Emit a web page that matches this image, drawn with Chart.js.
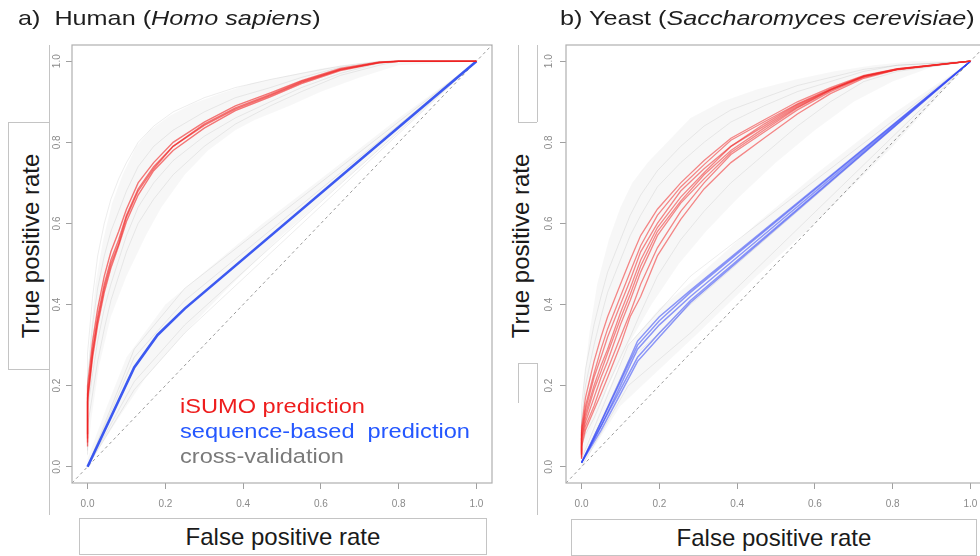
<!DOCTYPE html>
<html><head><meta charset="utf-8">
<script src="https://cdn.jsdelivr.net/npm/chart.js@4.4.1/dist/chart.umd.min.js"></script>
<style>
html,body{margin:0;padding:0;width:980px;height:556px;overflow:hidden;background:#fff;font-family:"Liberation Sans",Arial,Helvetica,sans-serif;}
.panel{position:absolute;top:0;width:500px;height:556px;}
.title{position:absolute;top:6px;font-size:21px;line-height:24px;color:#1e1e1e;white-space:nowrap;transform-origin:0 0;transform:scaleX(1.2);}
.box{position:absolute;border:1px solid #c4c4c4;box-sizing:border-box;background:#fff;}
.xt{font-size:24px;line-height:35px;text-align:center;color:#1a1a1a;white-space:nowrap;}
.yt{position:absolute;width:220px;height:28px;line-height:28px;font-size:24px;text-align:center;color:#1a1a1a;white-space:nowrap;transform:rotate(-90deg);}
.vl{position:absolute;width:0;border-left:1px solid #c4c4c4;}
.hl{position:absolute;height:0;border-top:1px solid #c4c4c4;}
.leg{position:absolute;left:180px;top:394px;font-size:20px;line-height:25px;white-space:nowrap;transform-origin:0 0;transform:scaleX(1.18);}
</style></head>
<body>
<div class="vl" style="left:49px;top:45px;height:470px"></div>
<div class="box" style="left:8px;top:122px;width:42px;height:248px"></div>
<div class="yt" style="left:-79px;top:232px">True positive rate</div>

<div class="vl" style="left:537px;top:45px;height:77px"></div>
<div class="vl" style="left:537px;top:363px;height:152px"></div>
<div class="vl" style="left:518px;top:45px;height:77px"></div>
<div class="vl" style="left:518px;top:363px;height:40px"></div>
<div class="hl" style="left:518px;top:122px;width:19px"></div>
<div class="hl" style="left:518px;top:363px;width:19px"></div>
<div class="yt" style="left:411px;top:232px">True positive rate</div>

<div class="box xt" style="left:79px;top:518px;width:408px;height:37px">False positive rate</div>
<div class="box xt" style="left:571px;top:519px;width:406px;height:37px">False positive rate</div>

<div class="panel" style="left:0px"><canvas id="cA"></canvas></div>
<div class="panel" style="left:494px"><canvas id="cB"></canvas></div>

<div class="title" style="left:18px">a)&nbsp; Human (<i>Homo sapiens</i>)</div>
<div class="title" style="left:560px">b) Yeast (<i>Saccharomyces cerevisiae</i>)</div>

<div class="leg">
<div style="color:#ee1d1d">iSUMO prediction</div>
<div style="color:#2457ff">sequence-based&nbsp; prediction</div>
<div style="color:#7a7a7a">cross-validation</div>
</div>

<script>
// ---------- shared ----------
const tickValues = [0, 0.2, 0.4, 0.6, 0.8, 1.0];
const axisMin = -0.04, axisMax = 1.04;
const diagonal = [-0.04, 1.04];

// ---------- a) Human ----------
const hRedX = [0, 0, 0.013, 0.026, 0.043, 0.06, 0.08, 0.1, 0.13, 0.17, 0.22, 0.3, 0.38, 0.47, 0.55, 0.65, 0.75, 0.8, 1.0];
const hRed1 = [0.06, 0.18, 0.29, 0.37, 0.45, 0.51, 0.56, 0.62, 0.685, 0.74, 0.79, 0.845, 0.885, 0.918, 0.95, 0.98, 0.997, 1, 1];
const hRed2 = [0.08, 0.20, 0.31, 0.39, 0.47, 0.53, 0.58, 0.635, 0.70, 0.75, 0.80, 0.85, 0.89, 0.922, 0.952, 0.982, 0.998, 1, 1];
const hRed3 = [0.05, 0.16, 0.27, 0.35, 0.43, 0.49, 0.545, 0.605, 0.67, 0.73, 0.78, 0.835, 0.878, 0.912, 0.945, 0.977, 0.996, 1, 1];
const hRed4 = [0.07, 0.17, 0.28, 0.36, 0.44, 0.50, 0.55, 0.615, 0.68, 0.735, 0.79, 0.842, 0.882, 0.915, 0.948, 0.979, 0.997, 1, 1];
const hCvRed1 = [0.10, 0.28, 0.42, 0.52, 0.60, 0.66, 0.71, 0.75, 0.80, 0.84, 0.875, 0.91, 0.935, 0.955, 0.97, 0.988, 1, 1, 1];
const hCvRed2 = [0.03, 0.10, 0.18, 0.26, 0.34, 0.41, 0.47, 0.53, 0.60, 0.66, 0.72, 0.79, 0.845, 0.89, 0.925, 0.965, 0.99, 1, 1];
const hCvRed3 = [0.08, 0.22, 0.35, 0.44, 0.52, 0.58, 0.63, 0.68, 0.74, 0.79, 0.83, 0.875, 0.91, 0.935, 0.96, 0.985, 0.998, 1, 1];
const hCvRed4 = [0.04, 0.14, 0.23, 0.31, 0.39, 0.45, 0.51, 0.57, 0.64, 0.70, 0.755, 0.815, 0.86, 0.90, 0.935, 0.97, 0.995, 1, 1];
const hBlueX = [0, 0.12, 0.18, 0.25, 1.0];
const hBlue = [0, 0.245, 0.325, 0.39, 1.0];
const hCvBlueX = [0, 0.12, 0.25, 1.0];
const hCvBlue1 = [0, 0.29, 0.44, 1];
const hCvBlue2 = [0, 0.21, 0.35, 1];
const hCvBlue3 = [0, 0.27, 0.41, 1];
const hCvBlue4 = [0, 0.19, 0.33, 1];
const hBandRedUpX = [0, 0.005, 0.02, 0.04, 0.063, 0.09, 0.125, 0.16, 0.21, 0.27, 0.34, 0.42, 0.5, 0.6, 0.7, 0.78, 1.0];
const hBandRedUpY = [0.12, 0.30, 0.45, 0.56, 0.65, 0.72, 0.79, 0.83, 0.865, 0.895, 0.92, 0.945, 0.962, 0.982, 0.995, 1, 1];
const hBandRedLoX = [0, 0.01, 0.03, 0.06, 0.1, 0.15, 0.19, 0.25, 0.31, 0.38, 0.43, 0.52, 0.6, 0.7, 0.8, 1.0];
const hBandRedLoY = [0.02, 0.12, 0.25, 0.37, 0.47, 0.57, 0.64, 0.72, 0.78, 0.83, 0.855, 0.89, 0.925, 0.96, 0.99, 1];
const hBandBlueUpX = [0, 0.05, 0.1, 0.2, 0.3, 0.45, 0.6, 0.8, 1.0];
const hBandBlueUpY = [0.02, 0.15, 0.27, 0.40, 0.48, 0.60, 0.71, 0.86, 1];
const hBandBlueLoX = [0, 0.08, 0.15, 0.25, 0.35, 0.5, 0.7, 0.85, 1.0];
const hBandBlueLoY = [0, 0.12, 0.22, 0.33, 0.43, 0.57, 0.74, 0.87, 1];

// ---------- b) Yeast ----------
const yRedX = [0, 0, 0.01, 0.032, 0.05, 0.067, 0.1, 0.125, 0.152, 0.195, 0.255, 0.315, 0.384, 0.469, 0.555, 0.64, 0.726, 0.812, 1.0];
const yRed1 = [0.04, 0.10, 0.17, 0.26, 0.32, 0.37, 0.45, 0.51, 0.57, 0.635, 0.70, 0.755, 0.81, 0.855, 0.90, 0.935, 0.965, 0.982, 1];
const yRed2 = [0.03, 0.09, 0.15, 0.23, 0.29, 0.34, 0.42, 0.48, 0.545, 0.62, 0.69, 0.745, 0.805, 0.85, 0.895, 0.932, 0.964, 0.981, 1];
const yRed3 = [0.03, 0.08, 0.13, 0.20, 0.25, 0.29, 0.38, 0.44, 0.51, 0.59, 0.665, 0.725, 0.79, 0.84, 0.89, 0.93, 0.963, 0.98, 1];
const yRed4 = [0.03, 0.07, 0.11, 0.17, 0.22, 0.26, 0.35, 0.41, 0.48, 0.57, 0.65, 0.71, 0.775, 0.83, 0.885, 0.928, 0.962, 0.98, 1];
const yRed5 = [0.02, 0.06, 0.10, 0.15, 0.20, 0.24, 0.32, 0.38, 0.45, 0.54, 0.63, 0.70, 0.77, 0.825, 0.88, 0.925, 0.96, 0.98, 1];
const yRed6 = [0.02, 0.05, 0.09, 0.14, 0.18, 0.22, 0.30, 0.37, 0.42, 0.52, 0.61, 0.685, 0.75, 0.81, 0.87, 0.92, 0.958, 0.979, 1];
const yRed7 = [0.035, 0.085, 0.14, 0.22, 0.27, 0.32, 0.40, 0.46, 0.53, 0.60, 0.68, 0.735, 0.79, 0.845, 0.893, 0.93, 0.963, 0.981, 1];
const yRed8 = [0.025, 0.07, 0.12, 0.19, 0.235, 0.28, 0.365, 0.425, 0.495, 0.58, 0.655, 0.72, 0.78, 0.835, 0.887, 0.929, 0.962, 0.98, 1];
const yBlueX = [0, 0.05, 0.1, 0.144, 0.2, 0.28, 1.0];
const yBlue1 = [0.01, 0.11, 0.21, 0.30, 0.36, 0.43, 1];
const yBlue2 = [0.01, 0.10, 0.20, 0.29, 0.35, 0.42, 1];
const yBlue3 = [0.01, 0.10, 0.19, 0.27, 0.33, 0.41, 1];
const yBlue4 = [0.01, 0.09, 0.18, 0.26, 0.32, 0.405, 1];
const yBlue5 = [0.01, 0.11, 0.215, 0.31, 0.37, 0.435, 1];
const yCvRed1 = [0.05, 0.15, 0.24, 0.35, 0.42, 0.48, 0.56, 0.62, 0.67, 0.73, 0.79, 0.84, 0.88, 0.91, 0.94, 0.96, 0.98, 0.99, 1];
const yCvRed2 = [0.02, 0.05, 0.08, 0.12, 0.16, 0.20, 0.27, 0.32, 0.38, 0.47, 0.56, 0.63, 0.70, 0.77, 0.84, 0.90, 0.95, 0.975, 1];
const yCvRed3 = [0.04, 0.12, 0.20, 0.30, 0.37, 0.43, 0.51, 0.57, 0.62, 0.69, 0.75, 0.80, 0.85, 0.89, 0.925, 0.95, 0.975, 0.99, 1];
const yCvBlueX = [0, 0.12, 0.28, 1.0];
const yCvBlue1 = [0.02, 0.30, 0.47, 1];
const yCvBlue2 = [0.0, 0.20, 0.33, 1];
const yCvBlue3 = [0.01, 0.26, 0.40, 1];
const yBandRedUpX = [0, 0.005, 0.02, 0.04, 0.07, 0.1, 0.13, 0.17, 0.22, 0.28, 0.36, 0.45, 0.55, 0.65, 0.75, 0.85, 1.0];
const yBandRedUpY = [0.05, 0.20, 0.33, 0.45, 0.56, 0.64, 0.70, 0.75, 0.80, 0.86, 0.90, 0.93, 0.955, 0.975, 0.99, 1, 1];
const yBandRedLoX = [0, 0.03, 0.07, 0.12, 0.18, 0.25, 0.32, 0.4, 0.5, 0.6, 0.7, 0.8, 0.9, 1.0];
const yBandRedLoY = [0.02, 0.10, 0.20, 0.30, 0.40, 0.50, 0.58, 0.66, 0.75, 0.83, 0.90, 0.95, 0.985, 1];
const yBandBlueUpX = [0, 0.05, 0.12, 0.2, 0.3, 0.45, 0.6, 0.8, 1.0];
const yBandBlueUpY = [0.02, 0.15, 0.30, 0.39, 0.47, 0.60, 0.72, 0.87, 1];
const yBandBlueLoX = [0, 0.1, 0.2, 0.3, 0.45, 0.6, 0.8, 1.0];
const yBandBlueLoY = [0, 0.15, 0.24, 0.33, 0.47, 0.60, 0.79, 1];

// ---------- builders ----------
function pts(xs, ys) { return xs.map((x, i) => ({x: x, y: ys[i]})); }
function band(ux, uy, lx, ly) { return pts(ux, uy).concat(pts(lx, ly).reverse()); }

function lineDs(data, color, width, order) {
  return {data: data, borderColor: color, borderWidth: width, pointRadius: 0, tension: 0, fill: false, order: order};
}
function bandDs(data, color, order) {
  return {data: data, borderColor: 'rgba(0,0,0,0)', borderWidth: 1, backgroundColor: color, pointRadius: 0, tension: 0, fill: 'shape', order: order};
}
function diagDs() {
  return {data: pts(diagonal, diagonal), borderColor: '#9a9a9a', borderWidth: 1, borderDash: [3, 3], pointRadius: 0, fill: false, order: 50};
}

const boxPlugin = {
  id: 'plotBox',
  afterDatasetsDraw(chart) {
    const a = chart.chartArea, c = chart.ctx;
    c.save(); c.strokeStyle = '#b0b0b0'; c.lineWidth = 1.2;
    c.strokeRect(a.left, a.top, a.right - a.left, a.bottom - a.top);
    c.restore();
  }
};

function makeChart(id, datasets, yPad) {
  return new Chart(document.getElementById(id), {
    type: 'line',
    data: {datasets: datasets},
    plugins: [boxPlugin],
    options: {
      responsive: true, maintainAspectRatio: false, animation: false,
      layout: {padding: {left: 0, top: 45, right: 8, bottom: 0}},
      plugins: {legend: {display: false}, tooltip: {enabled: false}},
      scales: {
        x: {
          type: 'linear', min: axisMin, max: axisMax,
          afterBuildTicks: s => { s.ticks = tickValues.map(v => ({value: v})); },
          afterFit: s => { s.height = 73; },
          ticks: {callback: v => Number(v).toFixed(1), color: '#8a8a8a', font: {size: 10, family: 'Liberation Sans'}, padding: 9, maxRotation: 0, autoSkip: false},
          grid: {drawOnChartArea: false, drawTicks: true, tickLength: 6, color: '#a0a0a0'},
          border: {display: false}
        },
        y: {
          type: 'linear', min: axisMin, max: axisMax,
          afterBuildTicks: s => { s.ticks = tickValues.map(v => ({value: v})); },
          afterFit: s => { s.width = 72; },
          ticks: {callback: v => Number(v).toFixed(1), color: '#8a8a8a', font: {size: 10, family: 'Liberation Sans'}, padding: yPad, minRotation: 90, maxRotation: 90, crossAlign: 'center', autoSkip: false},
          grid: {drawOnChartArea: false, drawTicks: true, tickLength: 6, color: '#a0a0a0'},
          border: {display: false}
        }
      }
    }
  });
}

const gray = 'rgba(110,110,110,0.12)';
const bandCol = 'rgba(0,0,0,0.033)';

const dsA = [
  lineDs(pts(hRedX, hRed1), 'rgba(240,30,30,0.6)', 1.4, 1),
  lineDs(pts(hRedX, hRed2), 'rgba(240,30,30,0.6)', 1.4, 1),
  lineDs(pts(hRedX, hRed3), 'rgba(240,30,30,0.6)', 1.4, 1),
  lineDs(pts(hRedX, hRed4), 'rgba(240,30,30,0.6)', 1.4, 1),
  lineDs(pts(hBlueX, hBlue), 'rgba(50,80,240,0.95)', 2.6, 2),
  lineDs(pts(hRedX, hCvRed1), gray, 1, 10),
  lineDs(pts(hRedX, hCvRed2), gray, 1, 10),
  lineDs(pts(hRedX, hCvRed3), gray, 1, 10),
  lineDs(pts(hRedX, hCvRed4), gray, 1, 10),
  lineDs(pts(hCvBlueX, hCvBlue1), gray, 1, 10),
  lineDs(pts(hCvBlueX, hCvBlue2), gray, 1, 10),
  lineDs(pts(hCvBlueX, hCvBlue3), gray, 1, 10),
  lineDs(pts(hCvBlueX, hCvBlue4), gray, 1, 10),
  bandDs(band(hBandRedUpX, hBandRedUpY, hBandRedLoX, hBandRedLoY), bandCol, 20),
  bandDs(band(hBandBlueUpX, hBandBlueUpY, hBandBlueLoX, hBandBlueLoY), bandCol, 21),
  diagDs()
];

const yRedCol = 'rgba(240,40,40,0.55)';
const yBlueCol = 'rgba(50,70,245,0.55)';
const dsB = [
  lineDs(pts(yRedX, yRed1), yRedCol, 1.3, 1),
  lineDs(pts(yRedX, yRed2), yRedCol, 1.3, 1),
  lineDs(pts(yRedX, yRed3), yRedCol, 1.3, 1),
  lineDs(pts(yRedX, yRed4), yRedCol, 1.3, 1),
  lineDs(pts(yRedX, yRed5), yRedCol, 1.3, 1),
  lineDs(pts(yRedX, yRed6), yRedCol, 1.3, 1),
  lineDs(pts(yRedX, yRed7), yRedCol, 1.3, 1),
  lineDs(pts(yRedX, yRed8), yRedCol, 1.3, 1),
  lineDs(pts(yBlueX, yBlue1), yBlueCol, 1.5, 2),
  lineDs(pts(yBlueX, yBlue2), yBlueCol, 1.5, 2),
  lineDs(pts(yBlueX, yBlue3), yBlueCol, 1.5, 2),
  lineDs(pts(yBlueX, yBlue4), yBlueCol, 1.5, 2),
  lineDs(pts(yBlueX, yBlue5), yBlueCol, 1.5, 2),
  lineDs(pts(yRedX, yCvRed1), gray, 1, 10),
  lineDs(pts(yRedX, yCvRed2), gray, 1, 10),
  lineDs(pts(yRedX, yCvRed3), gray, 1, 10),
  lineDs(pts(yCvBlueX, yCvBlue1), gray, 1, 10),
  lineDs(pts(yCvBlueX, yCvBlue2), gray, 1, 10),
  lineDs(pts(yCvBlueX, yCvBlue3), gray, 1, 10),
  bandDs(band(yBandRedUpX, yBandRedUpY, yBandRedLoX, yBandRedLoY), bandCol, 20),
  bandDs(band(yBandBlueUpX, yBandBlueUpY, yBandBlueLoX, yBandBlueLoY), bandCol, 21),
  diagDs()
];

makeChart('cA', dsA, 2);
makeChart('cB', dsB, 4);
</script>
</body></html>
